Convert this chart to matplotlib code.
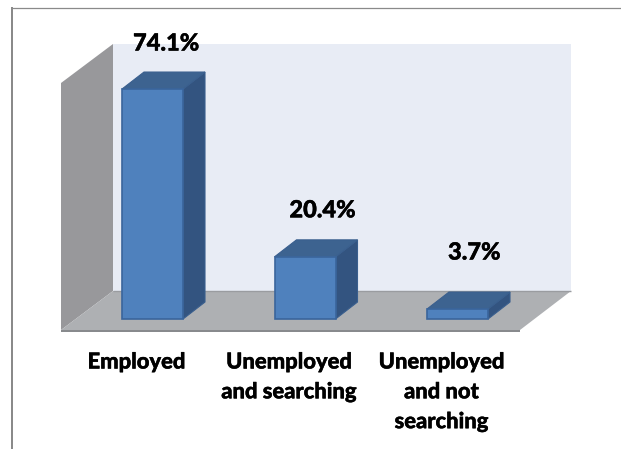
import matplotlib
matplotlib.use("Agg")
import matplotlib.pyplot as plt
import matplotlib.patheffects as path_effects
from matplotlib.patches import Polygon
from matplotlib.transforms import Affine2D

categories = ["Employed", "Unemployed\nand searching", "Unemployed\nand not\nsearching"]
values = [74.1, 20.4, 3.7]
value_labels = ["74.1%", "20.4%", "3.7%"]

WIDTH = 621
HEIGHT = 449

plt.rcParams["font.family"] = ["Lato", "DejaVu Sans"]

fig = plt.figure(figsize=(WIDTH / 100, HEIGHT / 100), dpi=100)
ax = fig.add_axes([0, 0, 1, 1])
ax.set_xlim(-1, WIDTH / 152.5 - 1)
ax.set_ylim((320.6 - HEIGHT) / 3.125, 320.6 / 3.125)
ax.axis("off")

# image-style pixel coordinates for the box around the bars
pixels = Affine2D().scale(1, -1).translate(0, HEIGHT)

# lato bold is a little light next to the reference, thicken it
heavier = [path_effects.withStroke(linewidth=0.3, foreground="black")]


def box_part(points, color, zorder=1):
    ax.add_patch(Polygon(points, closed=True, facecolor=color, edgecolor="none",
                         transform=pixels, zorder=zorder))


def box_line(xs, ys, color, width=1.0, zorder=2):
    ax.plot(xs, ys, color=color, lw=width, transform=pixels, zorder=zorder,
            solid_capstyle="butt")


# outer chart border, only top and left are visible
box_line([11, 621], [7.5, 7.5], "#8a8a8a", 0.9)
box_line([12, 12], [7, 449], "#8a8a8a", 1.44)

# back wall, side wall, floor
box_part([(113, 44), (571, 44), (571, 291), (113, 291)], "#e8ecf5")
box_part([(61, 83), (113, 44), (113, 291), (61, 330)], "#98989b")
box_part([(61, 330), (113, 291), (571, 291), (520, 330)], "#aeb0b3")
box_line([113, 571], [291, 291], "#9a9ca0", 1.0)
box_line([61, 520], [330.5, 330.5], "#85878a", 1.4)

# depth of the 3d bars, in data units
bar_width = 0.4
depth_x = 22 / 152.5
depth_y = 17 / 3.125
baseline = 0.5

for i, value in enumerate(values):
    left = i - bar_width / 2
    right = i + bar_width / 2
    side = [(right, baseline), (right + depth_x, baseline + depth_y),
            (right + depth_x, value + depth_y), (right, value)]
    top = [(left, value), (left + depth_x, value + depth_y),
           (right + depth_x, value + depth_y), (right, value)]
    ax.add_patch(Polygon(side, closed=True, facecolor="#335480", edgecolor="#3a5f8e",
                         lw=0.8, zorder=3))
    ax.add_patch(Polygon(top, closed=True, facecolor="#3d6390", edgecolor="#3a5f8e",
                         lw=0.8, zorder=3))
    ax.bar(i, value - baseline, bottom=baseline, width=bar_width, color="#4f81bd",
           edgecolor="#3a659c", linewidth=1.2, zorder=4)

# value labels sit above the bars, the short one a bit higher
label_x = [0.09, 0.115, 0.11]
label_gap = [46, 47, 57]
for i, text in enumerate(value_labels):
    ax.annotate(text, xy=(i + label_x[i], values[i]), xytext=(0, label_gap[i] * 0.72),
                textcoords="offset points", ha="center", va="center",
                fontsize=17, fontweight="black", color="black", zorder=5,
                path_effects=heavier)

# category labels under the floor
for i, text in enumerate(categories):
    ax.text(i - 0.105, (320.6 - 351.5) / 3.125, text, ha="center", va="top",
            fontsize=15.8, fontweight="black", color="black", linespacing=1.52, zorder=5,
            path_effects=heavier)

fig.savefig("out.png", dpi=100)
